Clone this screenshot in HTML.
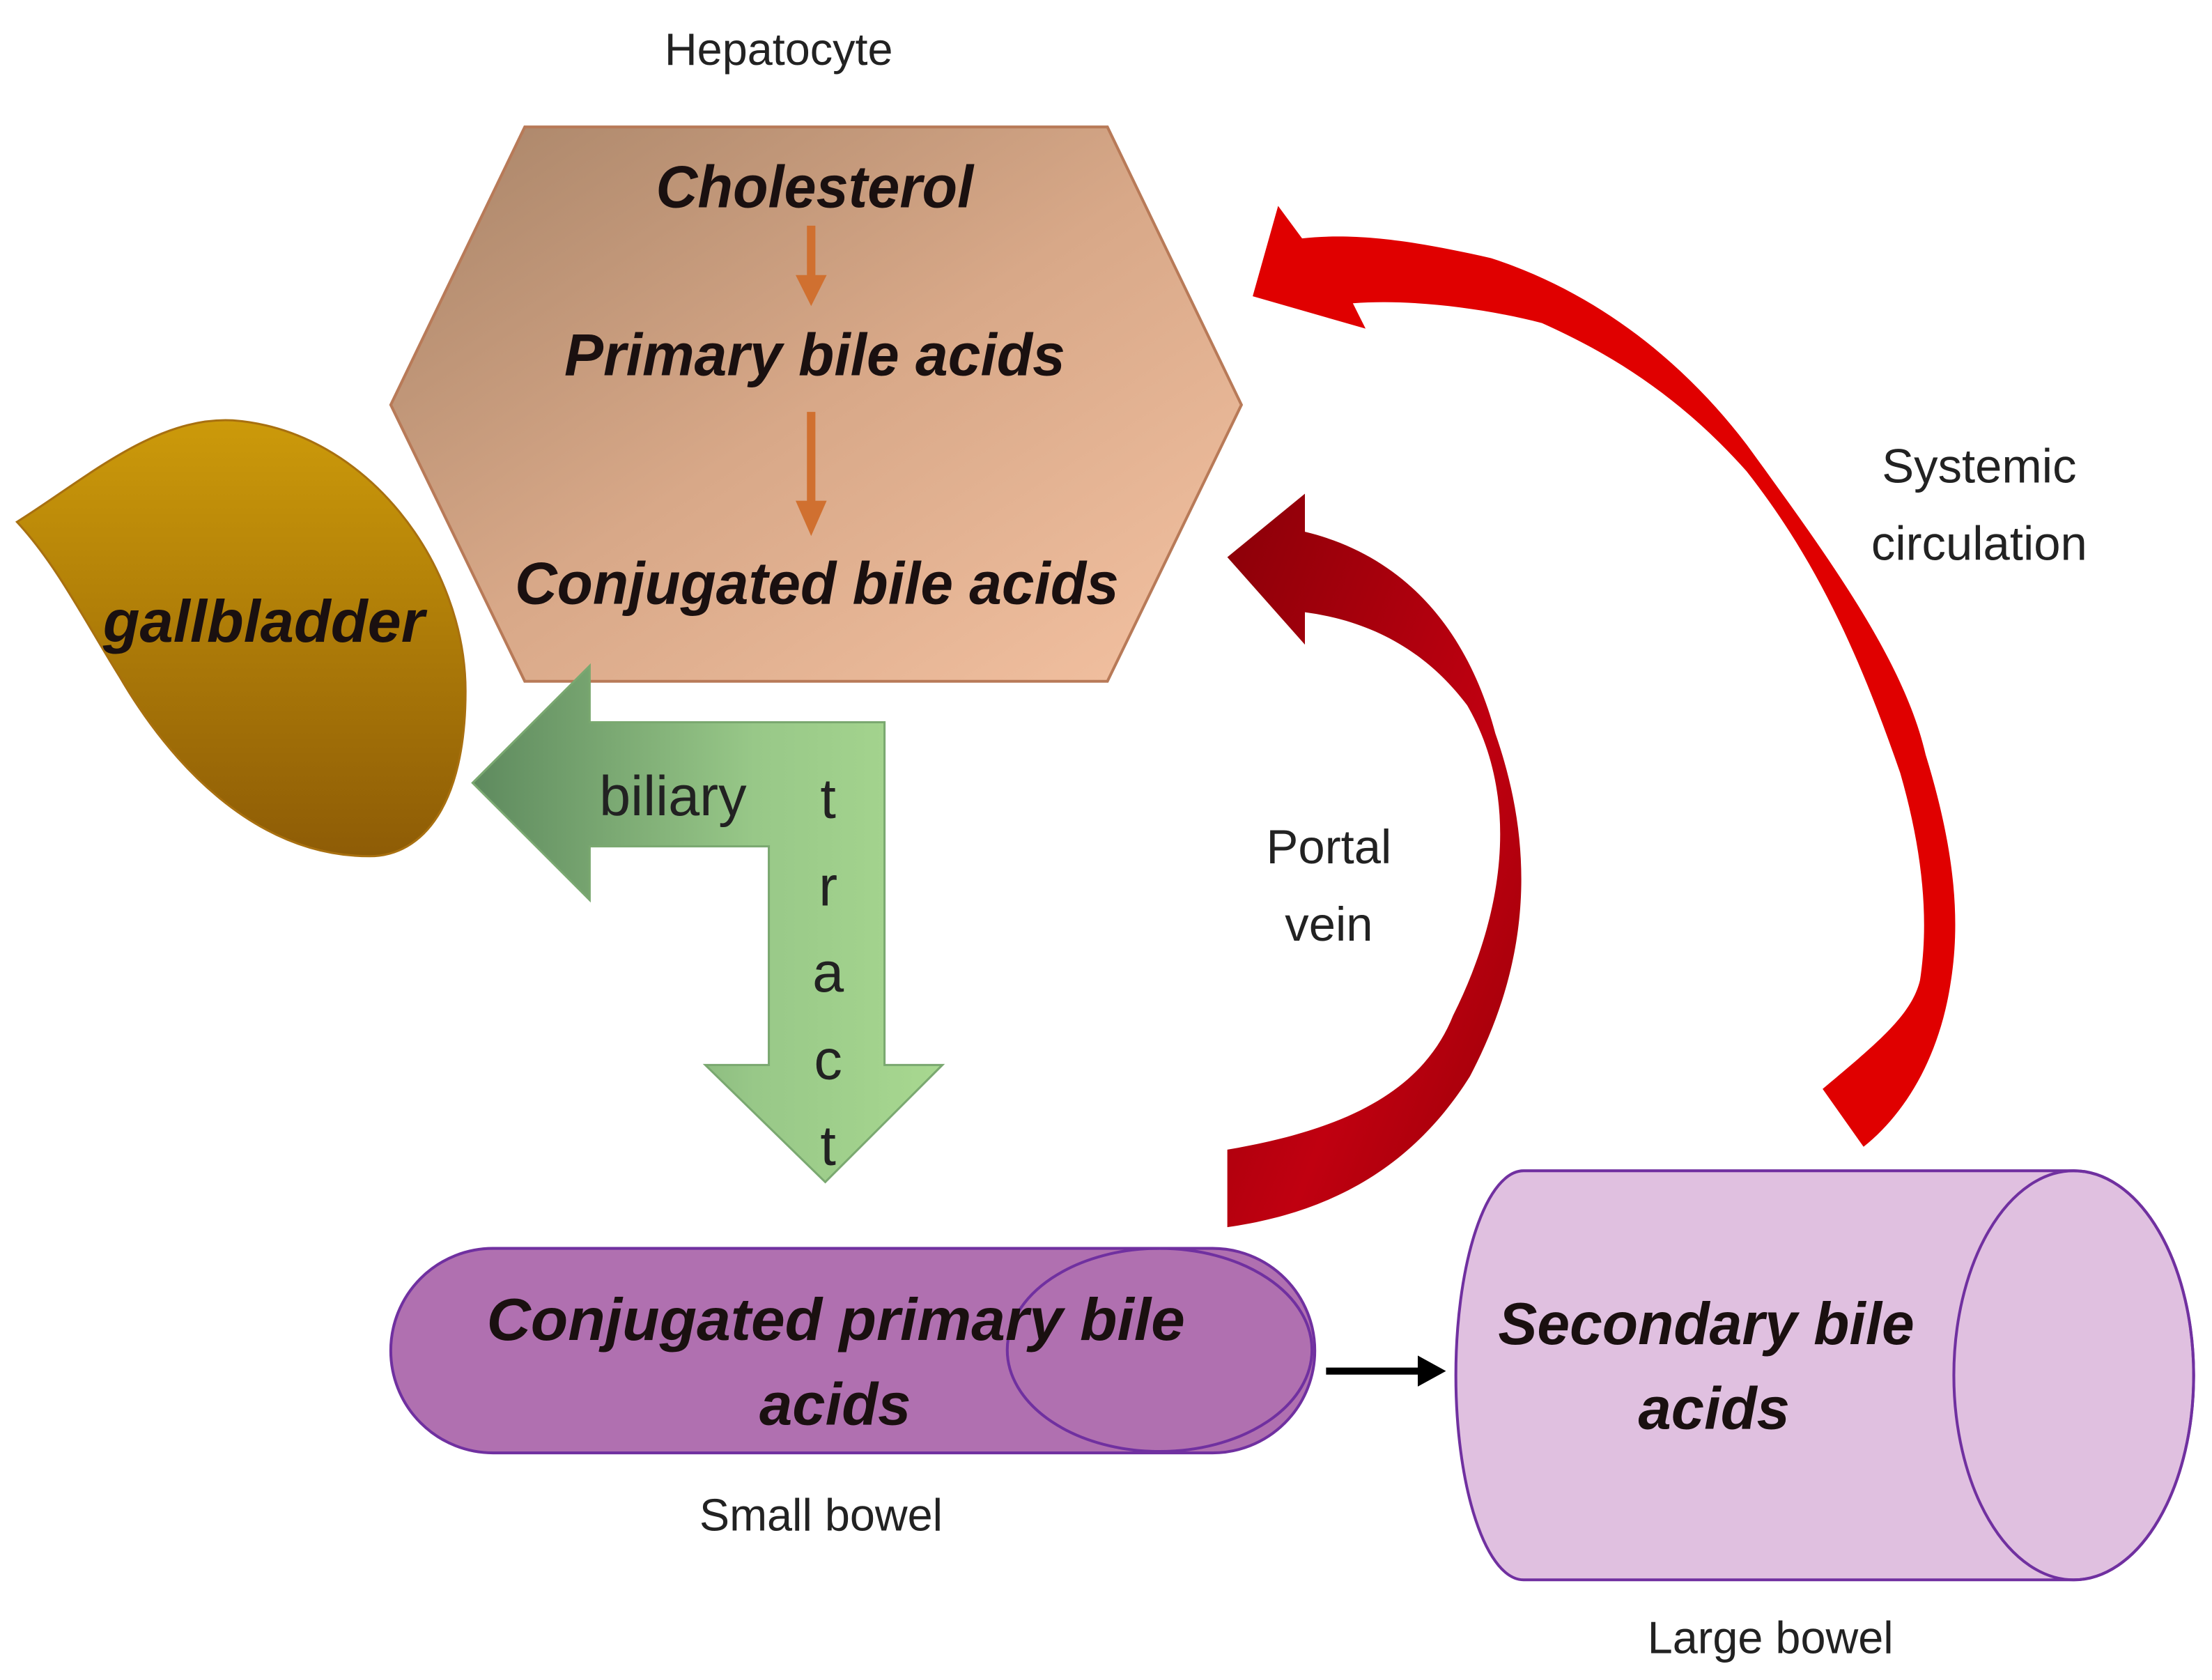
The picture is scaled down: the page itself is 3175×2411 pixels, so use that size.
<!DOCTYPE html>
<html><head><meta charset="utf-8"><style>
html,body{margin:0;padding:0;background:#fff;width:3175px;height:2411px;overflow:hidden}
svg{display:block}
text{font-family:"Liberation Sans",sans-serif}
.it{font-style:italic;font-weight:bold;fill:#1a1010}
.lb{fill:#222}
</style></head><body>
<svg width="3175" height="2411" viewBox="0 0 1568 1191" preserveAspectRatio="none">
<defs>
<linearGradient id="hex" x1="0" y1="0" x2="1" y2="1"><stop offset="0" stop-color="#a88468"/><stop offset="0.5" stop-color="#d8a888"/><stop offset="1" stop-color="#f4c2a2"/></linearGradient>
<linearGradient id="gb" x1="0" y1="0" x2="0" y2="1"><stop offset="0" stop-color="#cc9a0a"/><stop offset="1" stop-color="#8e5c06"/></linearGradient>
<linearGradient id="gr" x1="0" y1="0" x2="1" y2="0"><stop offset="0" stop-color="#5e8a5e"/><stop offset="0.6" stop-color="#98c888"/><stop offset="1" stop-color="#a8d890"/></linearGradient>
<linearGradient id="pv" x1="0" y1="0" x2="1" y2="1"><stop offset="0" stop-color="#8a0008"/><stop offset="0.6" stop-color="#c00010"/><stop offset="1" stop-color="#9a0008"/></linearGradient>
</defs>
<text x="552" y="46" font-size="32" text-anchor="middle" class="lb">Hepatocyte</text>
<polygon points="372,90 785,90 880,287 785,483 372,483 277,287" fill="url(#hex)" stroke="#b87a58" stroke-width="2"/>
<text x="465" y="147" font-size="42" textLength="225" lengthAdjust="spacingAndGlyphs" class="it">Cholesterol</text>
<path d="M572,160 L578,160 L578,195 L586,195 L575,217 L564,195 L572,195Z" fill="#d07030"/>
<text x="400" y="266" font-size="42" textLength="355" lengthAdjust="spacingAndGlyphs" class="it">Primary bile acids</text>
<path d="M572,292 L578,292 L578,355 L586,355 L575,380 L564,355 L572,355Z" fill="#d07030"/>
<text x="365" y="428" font-size="42" textLength="428" lengthAdjust="spacingAndGlyphs" class="it">Conjugated bile acids</text>
<path d="M12,370 C60,340 110,295 165,298 C260,305 330,400 330,490 C330,570 300,607 262,607 C180,607 120,540 85,480 C60,440 40,400 12,370Z" fill="url(#gb)" stroke="#a87010" stroke-width="1.5"/>
<text x="73" y="455" font-size="42" textLength="228" lengthAdjust="spacingAndGlyphs" class="it">gallbladder</text>
<polygon points="418,472 418,512 627,512 627,755 668,755 585,838 500,755 545,755 545,600 418,600 418,638 335,555" fill="url(#gr)" stroke="#7aa870" stroke-width="1.5"/>
<text x="477" y="578" font-size="40" text-anchor="middle" class="lb">biliary</text>
<g font-size="40" text-anchor="middle" class="lb"><text x="587" y="580">t</text><text x="587" y="642">r</text><text x="587" y="703">a</text><text x="587" y="765">c</text><text x="587" y="826">t</text></g>
<path d="M870,395 L925,350 L925,377 C1000,395 1042,452 1060,520 C1095,620 1075,700 1042,763 C1000,830 940,860 870,870 L870,815 C960,800 1010,770 1030,720 C1070,640 1075,560 1040,500 C1010,460 970,440 925,434 L925,457Z" fill="url(#pv)"/>
<path d="M888,210 L906,146 L923,169 C960,165 1000,170 1057,183 C1140,210 1200,265 1238,315 C1300,400 1350,470 1365,535 C1385,600 1390,650 1383,695 C1375,750 1350,790 1321,813 L1292,772 C1330,740 1355,720 1361,695 C1368,650 1362,600 1347,548 C1320,470 1290,400 1238,334 C1190,280 1140,250 1093,229 C1050,218 1000,212 959,215 L968,233Z" fill="#e00000"/>
<text x="1403" y="342" font-size="34" text-anchor="middle" class="lb">Systemic</text>
<text x="1403" y="397" font-size="34" text-anchor="middle" class="lb">circulation</text>
<text x="942" y="612" font-size="34" text-anchor="middle" class="lb">Portal</text>
<text x="942" y="667" font-size="34" text-anchor="middle" class="lb">vein</text>
<rect x="277" y="885" width="655" height="145" rx="72.5" fill="#b070b0" stroke="#7030a0" stroke-width="2"/>
<ellipse cx="822" cy="957" rx="108" ry="72" fill="none" stroke="#7030a0" stroke-width="2"/>
<text x="345" y="950" font-size="42" textLength="495" lengthAdjust="spacingAndGlyphs" class="it">Conjugated  primary bile</text>
<text x="592" y="1010" font-size="42" text-anchor="middle" class="it">acids</text>
<text x="582" y="1085" font-size="32" text-anchor="middle" class="lb">Small bowel</text>
<line x1="940" y1="972" x2="1008" y2="972" stroke="#000" stroke-width="5"/>
<polygon points="1025,972 1005,961 1005,983" fill="#000"/>
<path d="M1080,830 L1470,830 A85,145 0 0 1 1470,1120 L1080,1120 A48,145 0 0 1 1080,830Z" fill="#e0c0e0" stroke="#7030a0" stroke-width="2"/>
<ellipse cx="1470" cy="975" rx="85" ry="145" fill="none" stroke="#7030a0" stroke-width="2"/>
<text x="1062" y="953" font-size="42" textLength="295" lengthAdjust="spacingAndGlyphs" class="it">Secondary bile</text>
<text x="1215" y="1013" font-size="42" text-anchor="middle" class="it">acids</text>
<text x="1255" y="1172" font-size="32" text-anchor="middle" class="lb">Large bowel</text>
</svg>
</body></html>
